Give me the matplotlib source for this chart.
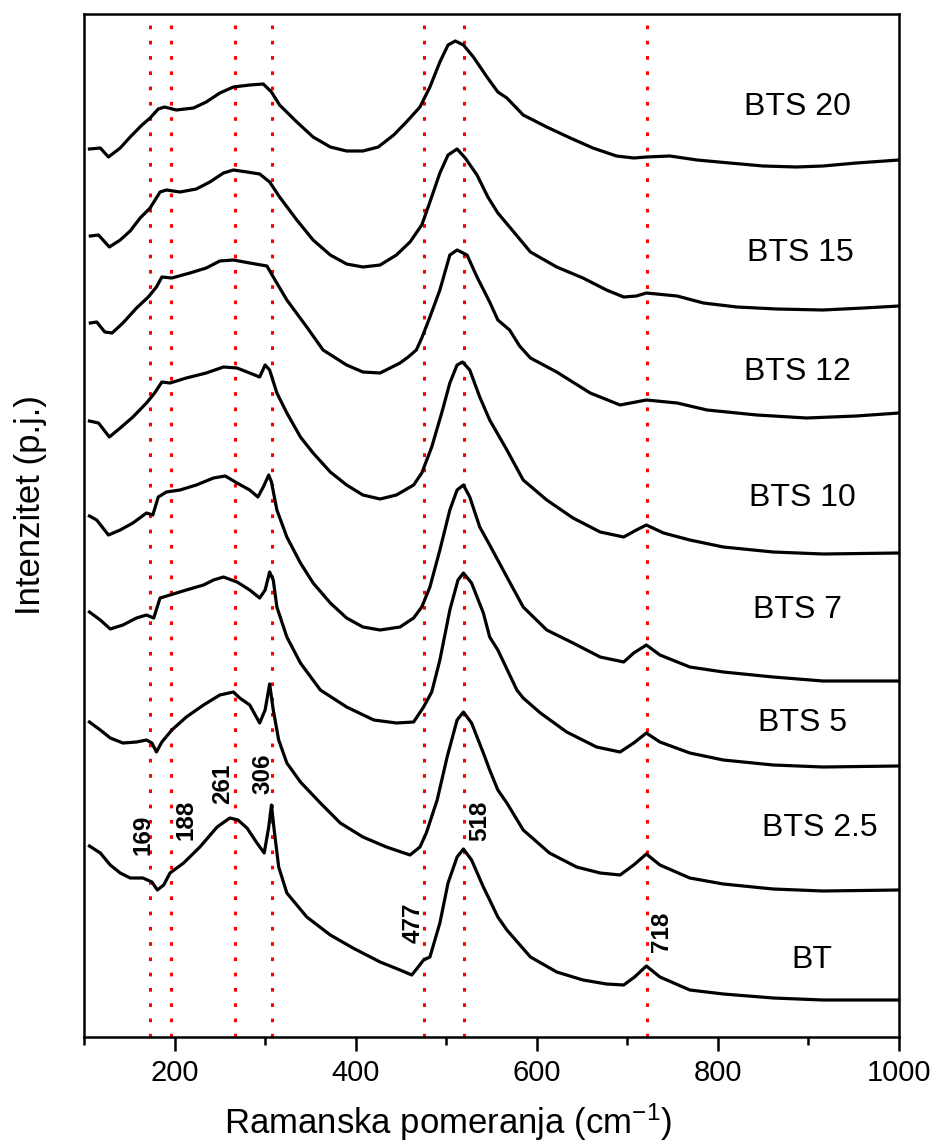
import matplotlib
matplotlib.use("Agg")
import matplotlib.pyplot as plt
from matplotlib.ticker import MultipleLocator

plt.rcParams['font.family'] = ['Liberation Sans', 'DejaVu Sans']
plt.rcParams['mathtext.default'] = 'regular'

# ---- data (wavenumber in cm-1, intensity in arbitrary stacked units) ----
bts20_x = [106,118,127,140,151,164,173,182,189,202,221,235,250,265,283,298,307,316,335,353,372,390,408,425,442,456,471,482,493,502,510,519,530,545,557,567,585,611,637,662,688,707,721,747,777,813,850,887,916,953,1000]
bts20_y = [888,889,880,889,900,912,919,928,930,927,929,935,944,950,952,953,945,932,915,900,890,886,886,890,902,915,930,950,975,992,996,992,980,960,945,939,922,910,899,889,881,879,880,881,877,874,871,870,871,874,877]

bts15_x = [107,116,128,140,151,162,173,184,191,206,224,239,254,265,280,294,305,316,335,353,372,390,408,427,445,460,473,482,493,502,512,521,534,546,557,570,593,622,651,677,696,710,721,755,784,821,865,916,961,1000]
bts15_y = [801,802,790,797,806,819,829,845,847,845,848,855,864,867,865,863,855,840,817,797,782,773,770,772,782,795,812,835,864,882,888,879,862,840,824,810,785,770,759,747,740,741,744,741,734,730,728,727,729,731]

bts12_x = [107,114,123,131,143,158,171,180,186,197,217,235,250,265,283,302,309,324,346,364,390,408,427,449,458,467,473,482,493,504,512,523,534,548,557,570,581,593,622,659,692,721,755,788,843,898,953,1000]
bts12_y = [714,715,705,704,714,729,740,750,760,759,764,769,776,777,774,771,760,737,710,687,672,665,664,674,680,687,699,720,747,782,787,782,760,735,717,707,691,679,665,644,632,637,634,627,622,619,621,624]

bts10_x = [106,116,128,140,154,169,178,186,195,213,235,254,269,283,294,300,305,313,324,339,353,372,390,408,427,445,464,473,484,495,504,512,518,526,537,548,567,585,611,640,670,696,710,721,740,769,806,861,916,1000]
bts10_y = [616,614,600,609,620,634,644,655,654,659,664,670,669,664,660,672,667,644,624,600,584,565,552,542,538,542,552,564,590,624,654,672,675,667,640,617,587,557,537,519,505,500,507,512,504,497,490,485,483,484]

bts7_x = [106,114,127,140,154,169,176,182,191,206,224,243,256,269,283,292,298,304,307,313,324,339,353,372,390,408,427,449,464,473,482,493,504,512,519,526,537,548,567,585,611,640,670,696,707,721,736,769,806,861,916,1000]
bts7_y = [521,517,502,507,514,524,522,540,545,547,552,559,561,554,547,540,550,562,555,527,500,474,454,434,419,410,407,410,419,430,450,487,527,547,552,540,510,492,460,430,407,394,380,375,384,392,382,370,365,360,356,356]

bts5_x = [106,118,129,143,158,169,177,184,195,213,232,243,254,269,283,294,300,305,309,313,324,339,361,390,420,445,464,475,484,493,504,513,519,528,541,548,557,578,585,604,633,666,692,707,721,736,769,806,861,916,1000]
bts5_y = [425,417,408,412,419,422,419,439,442,447,452,457,460,455,447,439,447,465,457,430,400,374,347,330,317,314,315,330,345,377,427,457,464,454,424,400,387,347,339,324,305,290,285,294,304,295,284,277,272,270,271]

bts25_x = [106,118,129,143,158,169,175,180,186,197,213,232,250,265,272,283,294,300,305,309,315,324,339,361,383,408,434,460,471,478,490,501,512,519,528,541,548,557,567,585,614,644,670,692,707,721,736,769,806,861,916,1000]
bts25_y = [315,307,299,294,295,297,294,285,295,307,320,332,342,345,339,332,314,327,353,327,297,274,255,234,214,200,190,182,190,204,237,280,317,325,314,284,267,247,234,207,184,170,164,162,172,183,172,159,153,148,146,147]

bt_x = [106,118,129,140,151,165,175,181,188,195,210,228,247,261,270,280,291,299,304,307,310,315,324,346,372,397,427,449,462,469,475,482,493,502,512,519,528,541,548,557,567,593,622,651,677,696,708,721,736,769,806,861,916,1000]
bt_y = [191,184,172,164,159,159,155,147,152,164,174,190,210,219,217,209,194,184,210,232,207,170,144,120,102,89,75,67,62,70,77,80,114,154,180,188,177,150,137,120,107,80,65,57,53,52,60,71,60,47,43,39,37,37]

sample_names = ['BTS 20', 'BTS 15', 'BTS 12', 'BTS 10', 'BTS 7', 'BTS 5', 'BTS 2.5', 'BT']
peak_lines = [173, 196, 267, 308, 475, 520, 722]
peak_labels = ['169', '188', '261', '306', '477', '518', '718']

# ---- layout (label placements) ----
spectra = [(bts20_x, bts20_y), (bts15_x, bts15_y), (bts12_x, bts12_y), (bts10_x, bts10_y),
           (bts7_x, bts7_y), (bts5_x, bts5_y), (bts25_x, bts25_y), (bt_x, bt_y)]
name_pos = [(888, 930), (891, 784), (888, 665), (893, 539), (888, 427), (893, 314), (913, 209), (904, 77)]
peak_label_pos = [(165, 202), (213, 217), (253, 253), (298, 263), (463, 114), (537, 216), (738, 105)]

fig = plt.figure(figsize=(9.38, 11.43), dpi=100)
ax = fig.add_axes([84/938, 1-1037/1143, 815/938, 1023/1143])

for xl in peak_lines:
    ax.axvline(xl, color='#ff0000', lw=2.2, linestyle=(0, (1.2, 3.8)), zorder=1)

for (xs, ys) in spectra:
    ax.plot(xs, ys, color='black', lw=2.3, solid_joinstyle='round', zorder=2)

for name, (tx, ty) in zip(sample_names, name_pos):
    ax.text(tx, ty, name, fontsize=23, ha='center', va='center', zorder=3)

for lab, (tx, ty) in zip(peak_labels, peak_label_pos):
    ax.text(tx, ty, lab, fontsize=17.5, fontweight='bold', rotation=90,
            ha='center', va='center', zorder=3)

ax.set_xlim(100, 1000)
ax.set_ylim(0, 1023)
ax.set_yticks([])
ax.xaxis.set_major_locator(MultipleLocator(200))
ax.xaxis.set_minor_locator(MultipleLocator(100))
ax.tick_params(axis='x', which='major', direction='out', length=10, width=1.8,
               labelsize=21, pad=6)
ax.tick_params(axis='x', which='minor', direction='out', length=5.5, width=1.8)
for sp in ax.spines.values():
    sp.set_linewidth(1.8)

ax.set_xlabel('Ramanska pomeranja (cm$^{-1}$)', fontsize=25)
ax.xaxis.set_label_coords(0.447, -0.063)
ax.set_ylabel('Intenzitet (p.j.)', fontsize=25)
ax.yaxis.set_label_coords(-0.045, 0.52)

fig.savefig('out.png', dpi=100)
